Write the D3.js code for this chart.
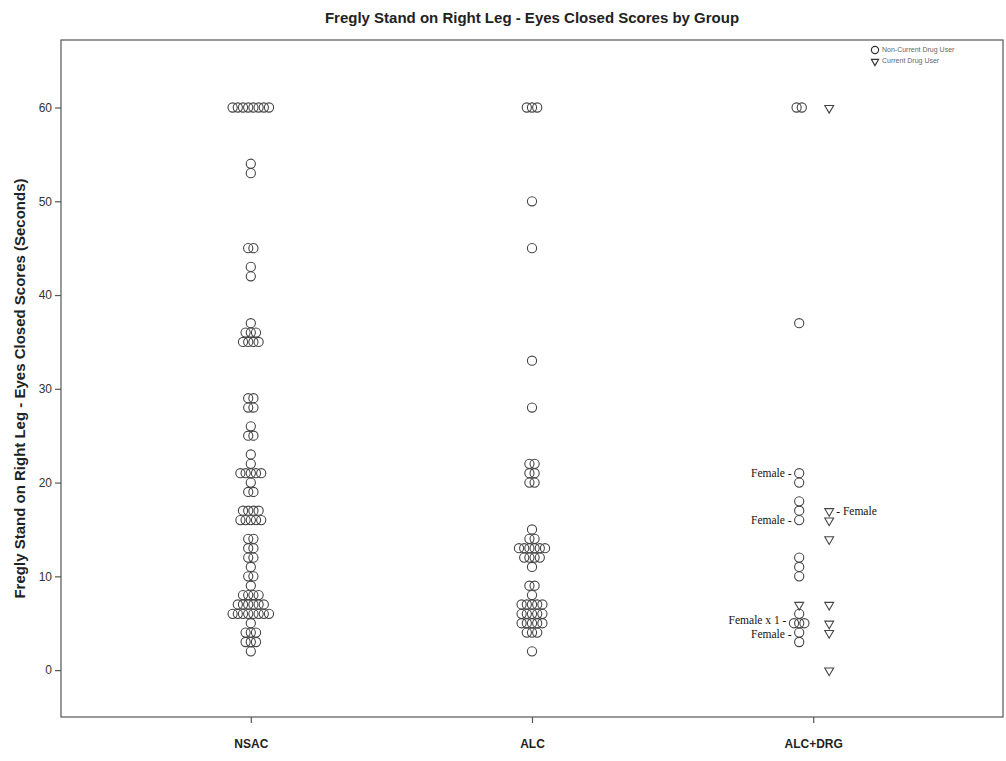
<!DOCTYPE html>
<html><head><meta charset="utf-8">
<script src="https://cdn.jsdelivr.net/npm/d3@7"></script>
<style>body{margin:0;background:#fff}</style>
</head><body>
<svg id="c" width="1006" height="761"></svg>
<script>
// ---- data ----
const groups = ["NSAC", "ALC", "ALC+DRG"];
const yTicks = [0, 10, 20, 30, 40, 50, 60];
const titleText = "Fregly Stand on Right Leg - Eyes Closed Scores by Group";
const yLabelText = "Fregly Stand on Right Leg - Eyes Closed Scores (Seconds)";
const legendLabels = ["Non-Current Drug User", "Current Drug User"];

const nsacValues = [60,54,53,45,43,42,37,36,35,29,28,26,25,23,22,21,20,19,17,16,14,13,12,11,10,9,8,7,6,5,4,3,2];
const nsacCounts = [ 8, 1, 1, 2, 1, 1, 1, 3, 4, 2, 2, 1, 2, 1, 1, 5, 1, 2, 4, 5, 2, 2, 2, 1, 2,1,4,6,8,1,3,3,1];

const alcValues = [60,50,45,33,28,22,21,20,15,14,13,12,11,9,8,7,6,5,4,2];
const alcCounts = [ 3, 1, 1, 1, 1, 2, 2, 2, 1, 2, 6, 4, 1,2,1,5,5,5,3,1];

// ALC+DRG: non-current users (circles, left sub-column)
const drgNonValues = [60,37,21,20,18,17,16,12,11,10,6,5,4,3];
const drgNonCounts = [ 2, 1, 1, 1, 1, 1, 1, 1, 1, 1,1,3,1,1];
// ALC+DRG: current users (triangles, right sub-column)
const drgCurValues = [60,17,16,14,7,5,4,0];
// current user drawn in left sub-column
const drgCurLeftValues = [7];

const annotations = [
  {text: "Female -", value: 21, side: "left", n: 1},
  {text: "Female -", value: 16, side: "left", n: 1},
  {text: "- Female", value: 17, side: "right", n: 1},
  {text: "Female x 1 -", value: 5, side: "left", n: 3},
  {text: "Female -", value: 4, side: "left", n: 1}
];

// ---- layout ----
const W = 1006, H = 761;
const plot = {left: 61, right: 1003, top: 40, bottom: 717};
const svg = d3.select("#c");
const ink = "#444";

const y = d3.scaleLinear().domain([-5.0, 67.2]).range([plot.bottom, plot.top]);
const x = d3.scalePoint().domain(groups).range([plot.left, plot.right]).padding(0.675);

// frame
svg.append("rect").attr("x", plot.left).attr("y", plot.top)
  .attr("width", plot.right - plot.left).attr("height", plot.bottom - plot.top)
  .attr("fill", "none").attr("stroke", "#555").attr("stroke-width", 1.2);

// y axis
const ya = svg.append("g").attr("transform", `translate(${plot.left},0)`)
  .call(d3.axisLeft(y).tickValues(yTicks).tickSize(6).tickPadding(3));
ya.select(".domain").remove();
ya.selectAll("line").attr("stroke", "#555").attr("stroke-width", 1.2);
ya.selectAll("text").attr("font-family", "Liberation Sans, Arial, sans-serif")
  .attr("font-size", 12).attr("fill", "#333");

// x axis
const xa = svg.append("g").attr("transform", `translate(0,${plot.bottom})`)
  .call(d3.axisBottom(x).tickSize(6).tickPadding(16));
xa.select(".domain").remove();
xa.selectAll("line").attr("stroke", "#555").attr("stroke-width", 1.2);
xa.selectAll("text").attr("font-family", "Liberation Sans, Arial, sans-serif")
  .attr("font-size", 12).attr("font-weight", "bold").attr("fill", "#222");

// title
svg.append("text").attr("x", (plot.left + plot.right) / 2).attr("y", 23)
  .attr("text-anchor", "middle").attr("font-family", "Liberation Sans, Arial, sans-serif")
  .attr("font-size", 15).attr("font-weight", "bold").attr("fill", "#222").text(titleText);

// y label
svg.append("text").attr("transform", `translate(25,${(plot.top + plot.bottom) / 2 + 10}) rotate(-90)`)
  .attr("text-anchor", "middle").attr("font-family", "Liberation Sans, Arial, sans-serif")
  .attr("font-size", 15).attr("font-weight", "bold").attr("fill", "#222").text(yLabelText);

// ---- marks ----
const r = 4.6, gap = 5.2;
const subOffset = 14;
function rowPoints(cx, values, counts) {
  const pts = [];
  values.forEach((v, k) => {
    const n = counts[k];
    for (let i = 0; i < n; i++) pts.push({x: cx + (i - (n - 1) / 2) * gap, y: y(v)});
  });
  return pts;
}
const circles = [
  ...rowPoints(x("NSAC"), nsacValues, nsacCounts),
  ...rowPoints(x("ALC"), alcValues, alcCounts),
  ...rowPoints(x("ALC+DRG") - subOffset, drgNonValues, drgNonCounts)
];
svg.append("g").selectAll("circle").data(circles).join("circle")
  .attr("cx", d => d.x).attr("cy", d => d.y).attr("r", r)
  .attr("fill", "none").attr("stroke", ink).attr("stroke-width", 1.1);

const tri = d3.symbol().type(d3.symbolTriangle).size(34);
const tris = [
  ...drgCurValues.map(v => ({x: x("ALC+DRG") + subOffset + 2, y: y(v)})),
  ...drgCurLeftValues.map(v => ({x: x("ALC+DRG") - subOffset, y: y(v)}))
];
svg.append("g").selectAll("path").data(tris).join("path")
  .attr("transform", d => `translate(${d.x},${d.y + 0.5}) rotate(180)`)
  .attr("d", tri).attr("fill", "none").attr("stroke", ink).attr("stroke-width", 1.1);

// annotations
svg.append("g").selectAll("text").data(annotations).join("text")
  .attr("x", d => d.side === "left"
      ? x("ALC+DRG") - subOffset - (d.n - 1) / 2 * gap - r - 3
      : x("ALC+DRG") + subOffset + 2 + 7)
  .attr("y", d => y(d.value) + (d.n > 1 ? -3 : (d.value === 4 ? 1 : 0)))
  .attr("dy", "0.35em")
  .attr("text-anchor", d => d.side === "left" ? "end" : "start")
  .attr("font-family", "Liberation Serif, Times New Roman, serif")
  .attr("font-size", 11.5).attr("fill", "#111").text(d => d.text);

// legend
const lg = svg.append("g").attr("transform", "translate(875,50)");
lg.append("circle").attr("cx", 0).attr("cy", 0).attr("r", 3.6)
  .attr("fill", "none").attr("stroke", "#333").attr("stroke-width", 1.2);
lg.append("path").attr("transform", "translate(0,11.5) rotate(180)")
  .attr("d", d3.symbol().type(d3.symbolTriangle).size(22))
  .attr("fill", "none").attr("stroke", "#333").attr("stroke-width", 1.2);
lg.selectAll("text").data(legendLabels).join("text")
  .attr("x", 7).attr("y", (d, i) => i * 11).attr("dy", "0.35em")
  .attr("font-family", "Liberation Sans, Arial, sans-serif")
  .attr("font-size", 7).attr("fill", "#666").text(d => d);
</script>
</body></html>
